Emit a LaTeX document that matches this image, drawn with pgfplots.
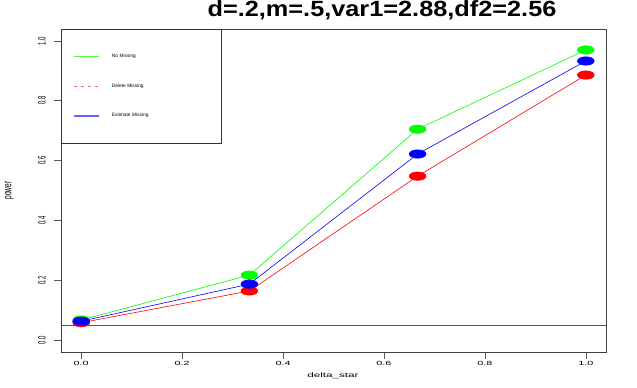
\documentclass[border=0pt]{standalone}
\usepackage{fontspec}
\setmainfont{Liberation Sans}
\usepackage{graphicx}
\usepackage{pgfplots}
\pgfplotsset{compat=1.18}
\definecolor{Rgreen}{RGB}{0,255,0}
\definecolor{Rred}{RGB}{255,0,0}
\definecolor{Rblue}{RGB}{0,0,255}
% R output is stretched sideways: widen tick text / label text
\newcommand{\sx}[1]{\scalebox{1.8}[1]{#1}}
\newcommand{\sy}[1]{\scalebox{1}[1.8]{#1}}

\begin{document}
\begin{tikzpicture}
\begin{axis}[
  at={(0,0)}, anchor=south west,
  scale only axis, width=545pt, height=323pt,
  xmin=-0.04, xmax=1.04, ymin=-0.04, ymax=1.04,
  axis line style={black!75, line width=0.8pt},
  tick align=outside, tick pos=left,
  major tick length=7pt,
  tick style={black!65, line width=0.6pt},
  xtick={0,0.2,0.4,0.6,0.8,1},
  xticklabels={\sx{0.0},\sx{0.2},\sx{0.4},\sx{0.6},\sx{0.8},\sx{1.0}},
  ytick={0,0.2,0.4,0.6,0.8,1},
  yticklabels={\sy{0.0},\sy{0.2},\sy{0.4},\sy{0.6},\sy{0.8},\sy{1.0}},
  ticklabel style={font=\fontsize{6}{7}\selectfont, inner sep=0pt},
  xticklabel style={anchor=north},
  yticklabel style={rotate=90, anchor=south},
  xticklabel shift=2pt,
  yticklabel shift=8pt,
  xlabel={\sx{delta\_star}},
  ylabel={\sy{power}},
  label style={font=\fontsize{6.5}{7}\selectfont},
  xlabel style={at={(axis description cs:0.499,-0.0743)}, anchor=center},
  ylabel style={at={(axis description cs:-0.0945,0.5)}, anchor=center},
  title={\scalebox{1.15}[1]{\fontsize{22}{26}\selectfont\bfseries d=.2,m=.5,var1=2.88,df2=2.56}},
  title style={at={(axis description cs:0.589,1)}, anchor=base, yshift=6pt},
  legend style={draw=black!80, line width=0.8pt, fill=white,
    at={(axis description cs:0,1)}, anchor=north west,
    inner xsep=12pt, inner ysep=25pt, row sep=24.5pt, column sep=12pt,
    font=\fontsize{4.8}{5}\selectfont,
    nodes={inner sep=0pt, text width=97pt}},
  legend cell align=left,
]
\addplot[black!65, line width=0.7pt, forget plot] coordinates {(-0.04,0.05) (1.04,0.05)};

\addplot[Rgreen, line width=0.6pt, mark=*, mark size=4.2pt, mark options={xscale=2},
  legend image code/.code={\draw[Rgreen!70, line width=1pt] (0pt,0pt) -- (25pt,0pt);}]
  coordinates {(0,0.067) (0.3333,0.217) (0.6667,0.705) (1,0.970)};
\addlegendentry{No Missing}
\addplot[Rred, line width=0.6pt, mark=*, mark size=4.2pt, mark options={xscale=2},
  legend image code/.code={\draw[Rred!60, line width=1pt]
    (0pt,0pt) -- (3pt,0pt) (7pt,0pt) -- (10pt,0pt) (14pt,0pt) -- (17pt,0pt) (21pt,0pt) -- (24pt,0pt);}]
  coordinates {(0,0.058) (0.3333,0.164) (0.6667,0.548) (1,0.886)};
\addlegendentry{Delete Missing}
\addplot[Rblue, line width=0.6pt, mark=*, mark size=4.2pt, mark options={xscale=2},
  legend image code/.code={\draw[Rblue!60, line width=1.5pt] (0pt,0pt) -- (25pt,0pt);}]
  coordinates {(0,0.063) (0.3333,0.187) (0.6667,0.622) (1,0.933)};
\addlegendentry{Estimate Missing}
\end{axis}
\pgfresetboundingbox
\useasboundingbox (-61pt,-36pt) rectangle (576pt,352pt);
\end{tikzpicture}
\end{document}
